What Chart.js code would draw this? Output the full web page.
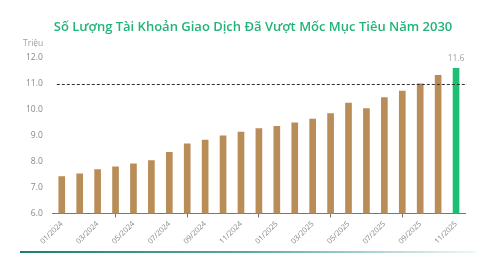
<!DOCTYPE html>
<html>
<head>
<meta charset="utf-8">
<script src="https://cdn.jsdelivr.net/npm/chart.js@4/dist/chart.umd.min.js"></script>
<style>
html,body{margin:0;padding:0;background:#fff;}
#wrap{position:relative;width:497px;height:261px;}
#bar{position:absolute;left:20px;top:251px;width:456px;height:2px;background:linear-gradient(to right,#1f7d72,#5aa9a0 50%,rgba(200,230,225,0.3));}
</style>
</head>
<body>
<div id="wrap">
<canvas id="c" width="497" height="261"></canvas>
<div id="bar"></div>
</div>
<script>
const categories = ["01/2024","02/2024","03/2024","04/2024","05/2024","06/2024","07/2024","08/2024","09/2024","10/2024","11/2024","12/2024","01/2025","02/2025","03/2025","04/2025","05/2025","06/2025","07/2025","08/2025","09/2025","10/2025","11/2025"];
const accounts = [7.42,7.53,7.69,7.80,7.92,8.04,8.36,8.69,8.83,9.00,9.14,9.28,9.36,9.50,9.64,9.86,10.26,10.05,10.47,10.72,11.00,11.33,11.60];
const targetLine = 11.0;
const titleText = "Số Lượng Tài Khoản Giao Dịch Đã Vượt Mốc Mục Tiêu Năm 2030";
const unitText = "Triệu";
const yTicks = [6,7,8,9,10,11,12];

const brown = "#b88d58";
const green = "#1dbf74";
const barColors = accounts.map((v,i)=> i===accounts.length-1 ? green : brown);

const extras = {
  id:'extras',
  afterDatasetsDraw(chart){
    const ctx = chart.ctx, ys = chart.scales.y, area = chart.chartArea;
    const yp = ys.getPixelForValue(targetLine);
    ctx.save();
    ctx.strokeStyle = "#333";
    ctx.lineWidth = 1;
    ctx.setLineDash([3,2]);
    ctx.beginPath();
    ctx.moveTo(area.left+4, Math.round(yp)+0.5);
    ctx.lineTo(area.right+2, Math.round(yp)+0.5);
    ctx.stroke();
    ctx.setLineDash([]);
    const meta = chart.getDatasetMeta(0);
    const last = meta.data[meta.data.length-1];
    ctx.fillStyle = "#a0a0a0";
    ctx.font = "8.5px 'Open Sans', sans-serif";
    ctx.textAlign = "center";
    ctx.textBaseline = "bottom";
    ctx.fillText(accounts[accounts.length-1].toFixed(1), last.x, last.y-6);
    ctx.textAlign = "left";
    ctx.fillText(unitText, 23, ys.getPixelForValue(12) - 10);
    ctx.fillStyle = "#22b37a";
    ctx.font = "600 13px 'Open Sans', sans-serif";
    ctx.textAlign = "center";
    ctx.textBaseline = "middle";
    ctx.fillText(titleText, 253, 27);
    ctx.restore();
  }
};

new Chart(document.getElementById('c'), {
  type:'bar',
  data:{labels:categories, datasets:[{data:accounts, backgroundColor:barColors, barThickness:6}]},
  options:{
    responsive:false, animation:false,
    layout:{padding:{top:58,left:24,right:32,bottom:13}},
    plugins:{legend:{display:false}, tooltip:{enabled:false}, title:{display:false}},
    scales:{
      x:{
        offset:true,
        afterFit(s){ s.paddingLeft = 0; s.paddingRight = 0; },
        grid:{display:true, drawOnChartArea:false, drawTicks:true, tickLength:4, offset:true, color:"#777"},
        border:{display:true, color:"#777", width:1},
        ticks:{autoSkip:true, maxTicksLimit:12, maxRotation:45, minRotation:45, color:"#888", font:{size:7.5, family:"'Open Sans', sans-serif"}, padding:2}
      },
      y:{
        min:6, max:12,
        afterBuildTicks(s){ s.ticks = yTicks.map(v=>({value:v})); },
        grid:{display:false},
        border:{display:false},
        ticks:{color:"#888", padding:2, font:{size:8.5, family:"'Open Sans', sans-serif"}, callback:v=>v.toFixed(1)}
      }
    }
  },
  plugins:[extras]
});
</script>
</body>
</html>
